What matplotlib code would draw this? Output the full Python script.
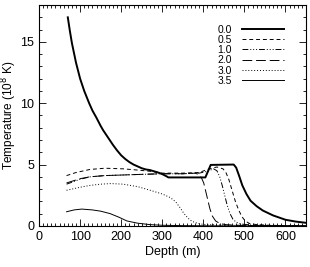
import numpy as np
import matplotlib
matplotlib.use("Agg")
import matplotlib.pyplot as plt
from matplotlib.ticker import MultipleLocator

plt.rcParams['font.family'] = ['Liberation Sans', 'DejaVu Sans']

# curves: depth (m), temperature (1e8 K)
x_00 = [70, 75, 80, 85, 90, 100, 110, 122, 130, 140, 150, 156, 170, 180, 190, 200, 210, 220,
        230, 240, 250, 260, 270, 280, 290, 300, 310, 315,
        405, 418, 474, 480, 487, 495, 505, 515, 530, 545, 570, 600, 625, 650]
t_00 = [17.0, 15.9, 14.9, 14.1, 13.3, 12.0, 11.0, 10.0, 9.4, 8.8, 8.15, 7.8, 7.1, 6.6, 6.15, 5.75, 5.45, 5.2,
        5.0, 4.85, 4.7, 4.6, 4.55, 4.45, 4.35, 4.22, 4.05, 3.95,
        3.95, 4.97, 5.0, 4.75, 4.1, 3.3, 2.6, 2.05, 1.6, 1.25, 0.85, 0.5, 0.35, 0.25]

x_05 = [67, 90, 124, 160, 205, 240, 271, 300, 350, 390, 410, 433, 448, 455, 462, 470, 478,
        486, 494, 502, 512, 530, 560, 600, 650]
t_05 = [4.1, 4.35, 4.6, 4.7, 4.65, 4.55, 4.45, 4.3, 4.3, 4.35, 4.6, 4.8, 4.65, 4.35, 3.8, 2.9, 2.0,
        1.3, 0.75, 0.4, 0.2, 0.1, 0.05, 0.02, 0.0]

x_10 = [67, 100, 124, 160, 205, 250, 300, 350, 390, 410, 425, 433, 440, 446, 452, 458, 465,
        472, 480, 492, 520, 560, 650]
t_10 = [3.4, 3.8, 4.0, 4.1, 4.15, 4.2, 4.25, 4.25, 4.3, 4.45, 4.65, 4.5, 4.0, 3.3, 2.5, 1.7, 1.0,
        0.55, 0.3, 0.15, 0.06, 0.03, 0.0]

x_20 = [67, 100, 124, 160, 205, 250, 300, 350, 380, 388, 395, 401, 406, 411, 416, 422, 430,
        440, 455, 480, 550, 650]
t_20 = [3.5, 3.85, 4.0, 4.1, 4.15, 4.2, 4.25, 4.25, 4.3, 4.2, 3.95, 3.5, 2.8, 2.1, 1.4, 0.8, 0.4,
        0.2, 0.1, 0.05, 0.02, 0.0]

x_30 = [67, 100, 124, 150, 175, 205, 240, 271, 300, 320, 333, 343, 352, 362, 372, 385, 400,
        450, 500, 650]
t_30 = [2.9, 3.15, 3.3, 3.4, 3.45, 3.4, 3.2, 2.9, 2.6, 2.3, 1.95, 1.5, 1.05, 0.65, 0.38, 0.22, 0.12,
        0.06, 0.03, 0.0]

x_35 = [67, 85, 104, 130, 150, 173, 195, 214, 240, 271, 300, 350, 450, 650]
t_35 = [1.15, 1.3, 1.37, 1.3, 1.2, 1.0, 0.7, 0.4, 0.22, 0.1, 0.05, 0.02, 0.0, 0.0]

fig = plt.figure(figsize=(3.10, 2.67), dpi=100)
ax = fig.add_axes([0.126, 0.154, 0.861, 0.827])

ax.plot(x_00, t_00, color='black', lw=1.4, label='0.0')
ax.plot(x_05, t_05, color='black', lw=0.7, ls=(0, (4, 3)), label='0.5')
ax.plot(x_10, t_10, color='black', lw=0.7, ls=(0, (6, 2, 1, 2, 1, 2, 1, 2)), label='1.0')
ax.plot(x_20, t_20, color='black', lw=0.7, ls=(0, (10, 4)), label='2.0')
ax.plot(x_30, t_30, color='black', lw=0.7, ls=(0, (1, 2)), label='3.0')
ax.plot(x_35, t_35, color='black', lw=0.7, label='3.5')

ax.set_xlim(0, 650)
ax.set_ylim(0, 18)
ax.xaxis.set_major_locator(MultipleLocator(100))
ax.xaxis.set_minor_locator(MultipleLocator(10))
ax.yaxis.set_major_locator(MultipleLocator(5))
ax.yaxis.set_minor_locator(MultipleLocator(1))
ax.tick_params(which='both', direction='in', top=True, right=True, labelsize=9, width=0.6)
ax.tick_params(which='major', length=5)
ax.tick_params(which='minor', length=2.5)
for s in ax.spines.values():
    s.set_linewidth(0.8)

ax.set_xlabel('Depth (m)', fontsize=9, labelpad=2)
ax.set_ylabel('Temperature (10$^8$ K)', fontsize=8.5, labelpad=1)

ax.legend(loc='upper right', frameon=False, markerfirst=False, fontsize=7.5,
          handlelength=4, handletextpad=1.0, labelspacing=0.02,
          bbox_to_anchor=(0.933, 0.93), borderaxespad=0)

fig.savefig('out.png', dpi=100)
